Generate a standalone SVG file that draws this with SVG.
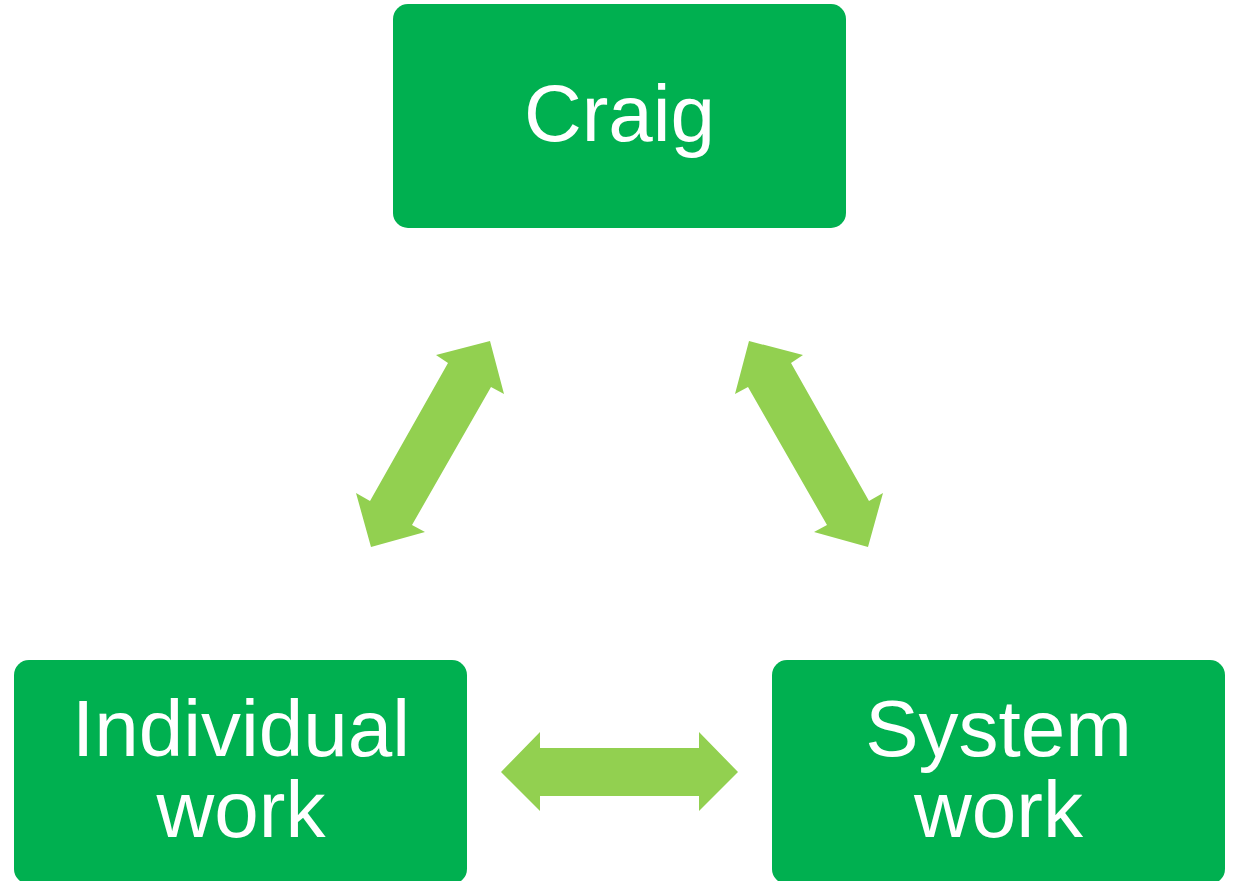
<svg xmlns="http://www.w3.org/2000/svg" width="1240" height="881" viewBox="0 0 1240 881">
<style>
.box{fill:#00B050}
.lbl{fill:#fff;font-family:"Liberation Sans",Arial,sans-serif;font-size:80px;text-anchor:middle}
.arr{fill:#92D050}
</style>
<rect width="1240" height="881" fill="#fff"/>
<g id="connectors">
<polygon class="arr" points="490,341 504,394 491,387 412,525 425,532 371,547 356,493 370,501 448,363 436,355"/>
<polygon class="arr" points="749,341 735,394 748,387 827,525 814,532 868,547 883,493 869,501 791,363 803,355"/>
<polygon class="arr" points="501,772 540,732 540,748 699,748 699,732 738,772 699,811 699,796 540,796 540,811"/>
</g>
<g id="craig">
<rect class="box" x="393" y="4" width="453" height="224" rx="15"/>
<text class="lbl" x="619.5" y="141">Craig</text>
</g>
<g id="individual">
<rect class="box" x="14" y="660" width="453" height="224" rx="15"/>
<text class="lbl" x="241" y="756">Individual</text>
<text class="lbl" x="241" y="837">work</text>
</g>
<g id="system">
<rect class="box" x="772" y="660" width="453" height="224" rx="15"/>
<text class="lbl" x="998.5" y="756">System</text>
<text class="lbl" x="998.5" y="837">work</text>
</g>
</svg>
